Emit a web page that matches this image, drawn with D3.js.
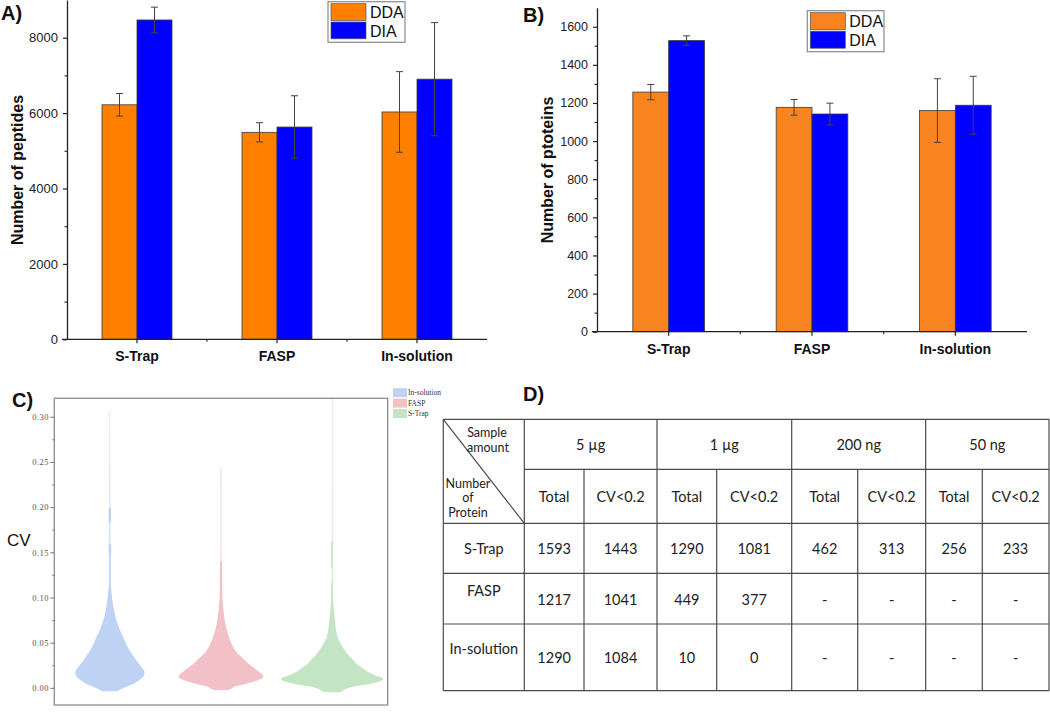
<!DOCTYPE html>
<html><head><meta charset="utf-8">
<script src="https://cdn.jsdelivr.net/npm/d3@7"></script>
<style>body{margin:0;background:#fff}svg{display:block;background:#fff}</style>
</head><body><svg id="fig" width="1050" height="712"></svg>
<script>
// ---------------- data ----------------
const categories = ["S-Trap", "FASP", "In-solution"];
const seriesNames = ["DDA", "DIA"];

const peptidesDDA = [6220, 5490, 6030];
const peptidesDDAerr = [300, 255, 1070];
const peptidesDIA = [8470, 5630, 6900];
const peptidesDIAerr = [340, 830, 1500];
const peptideTicks = [0, 2000, 4000, 6000, 8000];
const peptideMinorTicks = [1000, 3000, 5000, 7000];

const proteinsDDA = [1257, 1177, 1160];
const proteinsDDAerr = [40, 41, 167];
const proteinsDIA = [1527, 1142, 1188];
const proteinsDIAerr = [25, 57, 152];
const proteinTicks = [0, 200, 400, 600, 800, 1000, 1200, 1400, 1600];
const proteinMinorTicks = [100, 300, 500, 700, 900, 1100, 1300, 1500];

const violinGroups = ["In-solution", "FASP", "S-Trap"];
const cvTicks = [0, 0.05, 0.10, 0.15, 0.20, 0.25, 0.30];
const cvMinorTicks = [0.025, 0.075, 0.125, 0.175, 0.225, 0.275];
// [CV, relative density]
const violinInSolution = [
  [-0.0038, 8], [-0.0015, 11], [0.001, 16], [0.003, 21], [0.006, 26], [0.009, 30],
  [0.012, 33], [0.015, 34.5], [0.018, 34.5], [0.021, 33], [0.024, 31], [0.028, 28],
  [0.032, 25.5], [0.037, 22.5], [0.042, 19.5], [0.048, 16.5], [0.056, 13.5], [0.063, 10.5],
  [0.070, 8], [0.079, 5.5], [0.087, 4], [0.095, 2.8], [0.102, 2], [0.108, 1.5],
  [0.115, 0.8], [0.145, 0.8], [0.152, 1.3], [0.157, 1.3], [0.160, 0.5], [0.183, 0.5],
  [0.185, 1.2], [0.198, 1.2], [0.200, 0.35], [0.306, 0.3]
];
const violinFASP = [
  [-0.0025, 7], [-0.001, 10], [0.001, 13], [0.003, 20], [0.005, 27], [0.007, 33],
  [0.009, 38], [0.011, 41.5], [0.013, 42.5], [0.015, 41], [0.018, 37.5], [0.0214, 34],
  [0.025, 29.5], [0.028, 26], [0.031, 23.5], [0.036, 18.5], [0.042, 14], [0.049, 10.5],
  [0.056, 8], [0.065, 5.5], [0.075, 3.7], [0.085, 2.5], [0.093, 1.8], [0.100, 1.4],
  [0.110, 1.2], [0.125, 1.1], [0.139, 1.0], [0.141, 0.4], [0.243, 0.35]
];
const violinSTrap = [
  [-0.0048, 8], [-0.003, 11], [-0.0007, 15], [0.002, 25], [0.0048, 40], [0.007, 47],
  [0.0092, 51], [0.011, 50], [0.014, 43], [0.017, 37], [0.0214, 31], [0.026, 25],
  [0.031, 21], [0.036, 16.5], [0.042, 12.5], [0.049, 8.5], [0.056, 5.5], [0.065, 3.8],
  [0.075, 2.7], [0.085, 1.8], [0.093, 1.2], [0.100, 1.0], [0.115, 0.9], [0.118, 0.5],
  [0.132, 0.5], [0.135, 0.9], [0.161, 0.9], [0.163, 0.35], [0.32, 0.3]
];
const violinData = [violinInSolution, violinFASP, violinSTrap];

const tableAmounts = ["5 µg", "1 µg", "200 ng", "50 ng"];
const tableSubCols = ["Total", "CV<0.2"];
const tableRows = ["S-Trap", "FASP", "In-solution"];
const tableValues = [
  ["1593", "1443", "1290", "1081", "462", "313", "256", "233"],
  ["1217", "1041", "449", "377", "-", "-", "-", "-"],
  ["1290", "1084", "10", "0", "-", "-", "-", "-"]
];

// ---------------- drawing ----------------
const svg = d3.select("#fig");
const SANS = "'Liberation Sans', Arial, sans-serif";

function barPanel(o) {
  const g = svg.append("g");
  const x0 = d3.scaleBand().domain(categories).range([o.left, o.right]);
  const bw = x0.bandwidth();
  const x1 = d3.scaleBand().domain(seriesNames).range([bw * 0.25, bw * 0.75]);
  const y = d3.scaleLinear().domain([0, o.yMax]).range([o.bottom, o.top]);
  const vals = [o.dda, o.dia], errs = [o.ddaErr, o.diaErr];

  seriesNames.forEach((s, si) => {
    g.append("g").selectAll("rect").data(categories).join("rect")
      .attr("x", (c) => x0(c) + x1(s))
      .attr("y", (c, i) => y(vals[si][i]))
      .attr("width", x1.bandwidth())
      .attr("height", (c, i) => y(0) - y(vals[si][i]))
      .attr("fill", o.colors[si])
      .attr("stroke", "#3a3a3a").attr("stroke-width", 0.8);
  });
  seriesNames.forEach((s, si) => {
    const eg = g.append("g").attr("stroke", "#444").attr("stroke-width", 1);
    categories.forEach((c, i) => {
      const cx = x0(c) + x1(s) + x1.bandwidth() / 2;
      const hi = y(vals[si][i] + errs[si][i]), lo = y(vals[si][i] - errs[si][i]);
      eg.append("line").attr("x1", cx).attr("x2", cx).attr("y1", hi).attr("y2", lo);
      eg.append("line").attr("x1", cx - 3.5).attr("x2", cx + 3.5).attr("y1", hi).attr("y2", hi);
      eg.append("line").attr("x1", cx - 3.5).attr("x2", cx + 3.5).attr("y1", lo).attr("y2", lo);
    });
  });

  const ya = g.append("g").attr("transform", `translate(${o.left},0)`)
    .call(d3.axisLeft(y).tickValues(o.ticks).tickFormat(d3.format("d")).tickSize(4).tickPadding(5).tickSizeOuter(0));
  ya.select(".domain").attr("stroke", "#222").attr("stroke-width", 1.3);
  ya.selectAll(".tick line").attr("stroke", "#222").attr("stroke-width", 1.2);
  ya.selectAll("text").attr("font-family", SANS).attr("font-size", o.tickFont).attr("fill", "#222");
  const ym = g.append("g").attr("transform", `translate(${o.left},0)`)
    .call(d3.axisLeft(y).tickValues(o.minor).tickSize(2.5).tickFormat("").tickSizeOuter(0));
  ym.select(".domain").remove();
  ym.selectAll(".tick line").attr("stroke", "#222").attr("stroke-width", 1.1);

  g.append("line").attr("x1", o.left - 5).attr("x2", o.right).attr("y1", o.bottom).attr("y2", o.bottom)
    .attr("stroke", "#222").attr("stroke-width", 1.3);
  const xa = g.append("g").attr("transform", `translate(0,${o.bottom})`)
    .call(d3.axisBottom(x0).tickSize(4).tickPadding(8).tickSizeOuter(0));
  xa.select(".domain").remove();
  xa.selectAll(".tick line").attr("stroke", "#222").attr("stroke-width", 1.2);
  xa.selectAll("text").attr("font-family", SANS).attr("font-size", 14).attr("font-weight", "bold").attr("fill", "#111");
  g.append("g").selectAll("line").data(categories.slice(1)).join("line")
    .attr("x1", (c) => x0(c)).attr("x2", (c) => x0(c))
    .attr("y1", o.bottom).attr("y2", o.bottom + 2.5)
    .attr("stroke", "#222").attr("stroke-width", 1.1);

  g.append("text").attr("transform", `translate(${o.ylabelX},${o.ylabelY}) rotate(-90)`)
    .attr("text-anchor", "middle").attr("dominant-baseline", "central")
    .attr("font-family", SANS).attr("font-size", 16).attr("font-weight", "bold").attr("fill", "#111")
    .text(o.ylabel);

  g.append("text").attr("x", o.letterX).attr("y", o.letterY)
    .attr("font-family", SANS).attr("font-size", 20).attr("font-weight", "bold").attr("fill", "#111")
    .text(o.letter);

  const L = o.legend;
  g.append("rect").attr("x", L.x).attr("y", L.y).attr("width", L.w).attr("height", L.h)
    .attr("fill", "#fff").attr("stroke", "#8a8a8a").attr("stroke-width", 1.2);
  seriesNames.forEach((s, si) => {
    g.append("rect").attr("x", L.x + 3).attr("y", L.y + 2 + si * (L.h - 4) / 2)
      .attr("width", 35).attr("height", (L.h - 4) / 2 - 1.5)
      .attr("fill", o.colors[si]).attr("stroke", "#555").attr("stroke-width", 0.7);
    g.append("text").attr("x", L.x + 42).attr("y", L.y + 2 + si * (L.h - 4) / 2 + (L.h - 4) / 4)
      .attr("dominant-baseline", "central")
      .attr("font-family", SANS).attr("font-size", 16).attr("fill", "#111").text(s);
  });
}

barPanel({
  left: 67, right: 487, bottom: 339.3, top: 0, yMax: 9000,
  ticks: peptideTicks, minor: peptideMinorTicks,
  dda: peptidesDDA, ddaErr: peptidesDDAerr, dia: peptidesDIA, diaErr: peptidesDIAerr,
  colors: ["#FF7F00", "#0000FF"], tickFont: 13,
  ylabel: "Number of peptides", ylabelX: 17, ylabelY: 170,
  letter: "A)", letterX: 1, letterY: 20,
  legend: { x: 328, y: 1.7, w: 77, h: 40.6 }
});
barPanel({
  left: 597, right: 1027, bottom: 331.7, top: 331.7 - 1700 * (305 / 1600), yMax: 1700,
  ticks: proteinTicks, minor: proteinMinorTicks,
  dda: proteinsDDA, ddaErr: proteinsDDAerr, dia: proteinsDIA, diaErr: proteinsDIAerr,
  colors: ["#F7841E", "#0000FF"], tickFont: 12.5,
  ylabel: "Number of ptoteins", ylabelX: 547, ylabelY: 170,
  letter: "B)", letterX: 523, letterY: 22,
  legend: { x: 807.3, y: 10.7, w: 76.7, h: 41 }
});

// ---------------- panel C: violins ----------------
(function () {
  const g = svg.append("g");
  const fx0 = 54.3, fx1 = 387.7, fy0 = 398.3, fy1 = 705;
  const xv = d3.scaleBand().domain(violinGroups).range([fx0, fx1]);
  const yv = d3.scaleLinear().domain([-0.019, 0.3204]).range([fy1, fy0]);
  const wv = d3.scaleLinear().domain([0, 55]).range([0, 55]);
  const fills = ["#BED3F4", "#F1C1C7", "#C4E5C4"];

  svg.append("defs").append("clipPath").attr("id", "cvclip")
    .append("rect").attr("x", fx0).attr("y", fy0).attr("width", fx1 - fx0).attr("height", fy1 - fy0);

  const vg = g.append("g").attr("clip-path", "url(#cvclip)");
  violinGroups.forEach((name, i) => {
    const cx = xv(name) + xv.bandwidth() / 2;
    const area = d3.area()
      .y((d) => yv(d[0]))
      .x0((d) => cx - wv(d[1]))
      .x1((d) => cx + wv(d[1]))
      .curve(d3.curveMonotoneY);
    vg.append("path").datum(violinData[i]).attr("d", area).attr("fill", fills[i]);
  });

  g.append("rect").attr("x", fx0).attr("y", fy0).attr("width", fx1 - fx0).attr("height", fy1 - fy0)
    .attr("fill", "none").attr("stroke", "#8c8c8c").attr("stroke-width", 1.3);

  const ya = g.append("g").attr("transform", `translate(${fx0},0)`)
    .call(d3.axisLeft(yv).tickValues(cvTicks).tickSize(4).tickPadding(1.5).tickFormat(d3.format(".2f")).tickSizeOuter(0));
  ya.select(".domain").remove();
  ya.selectAll(".tick line").attr("stroke", "#777");
  ya.selectAll("text").attr("font-family", "'Liberation Serif', serif").attr("font-size", 8.5)
    .attr("fill", "#555").attr("letter-spacing", 0.4);
  const ym = g.append("g").attr("transform", `translate(${fx0},0)`)
    .call(d3.axisLeft(yv).tickValues(cvMinorTicks).tickSize(2).tickFormat("").tickSizeOuter(0));
  ym.select(".domain").remove();
  ym.selectAll(".tick line").attr("stroke", "#777");

  g.append("text").attr("x", 7).attr("y", 546).attr("font-family", SANS).attr("font-size", 17)
    .attr("fill", "#111").text("CV");
  g.append("text").attr("x", 12).attr("y", 407).attr("font-family", SANS).attr("font-size", 20)
    .attr("font-weight", "bold").attr("fill", "#111").text("C)");

  violinGroups.forEach((name, i) => {
    const cy = 392.7 + i * 10.4;
    g.append("rect").attr("x", 393).attr("y", cy - 4.5).attr("width", 14).attr("height", 9).attr("fill", fills[i]);
    g.append("text").attr("x", 408).attr("y", cy).attr("dominant-baseline", "central")
      .attr("font-family", "'Liberation Serif', serif").attr("font-size", 7.5).attr("fill", "#333").text(name);
  });
})();

// ---------------- panel D: table ----------------
(function () {
  const g = svg.append("g");
  const colX = [443.3, 524.3, 584, 657, 716.7, 791.7, 857.7, 925.7, 982.3, 1049];
  const rowY = [419.3, 469.3, 523.3, 573.3, 624, 690.7];
  const CELL = "Lato, 'Open Sans', sans-serif";
  const stroke = "#4a4a4a";

  g.append("text").attr("x", 523).attr("y", 401).attr("font-family", SANS).attr("font-size", 20)
    .attr("font-weight", "bold").attr("fill", "#111").text("D)");

  const line = (x1, y1, x2, y2) => g.append("line").attr("x1", x1).attr("y1", y1).attr("x2", x2).attr("y2", y2)
    .attr("stroke", stroke).attr("stroke-width", 1.2);
  rowY.forEach((yy, i) => line(i === 1 ? colX[1] : colX[0], yy, colX[9], yy));
  colX.forEach((xx, i) => {
    const startY = (i === 0 || i === 9 || i % 2 === 1) ? rowY[0] : rowY[1];
    line(xx, startY, xx, rowY[5]);
  });
  line(colX[0], rowY[0], colX[1], rowY[2]);

  const txt = (x, y, s, size) => g.append("text").attr("x", x).attr("y", y)
    .attr("text-anchor", "middle").attr("dominant-baseline", "central")
    .attr("font-family", CELL).attr("font-size", size).attr("fill", "#222").text(s);

  txt(487, 432, "Sample", 12.5);
  txt(488, 447.5, "amount", 12.5);
  txt(468, 483, "Number", 12.5);
  txt(468, 497.5, "of", 12.5);
  txt(468, 512.5, "Protein", 12.5);

  const FS = 14.5;
  tableAmounts.forEach((a, i) => txt((colX[1 + 2 * i] + colX[3 + 2 * i]) / 2, (rowY[0] + rowY[1]) / 2, a, FS));
  tableAmounts.forEach((a, i) => tableSubCols.forEach((s, j) => {
    const c = 1 + 2 * i + j;
    txt((colX[c] + colX[c + 1]) / 2, (rowY[1] + rowY[2]) / 2, s, FS);
  }));
  const labelY = [548.3, 590, 648.3];
  const valueY = [548.3, 599, 657.3];
  tableRows.forEach((r, ri) => {
    txt((colX[0] + colX[1]) / 2, labelY[ri], r, FS);
    tableValues[ri].forEach((v, ci) => txt((colX[ci + 1] + colX[ci + 2]) / 2, valueY[ri], v, FS));
  });
})();
</script>
</body></html>
